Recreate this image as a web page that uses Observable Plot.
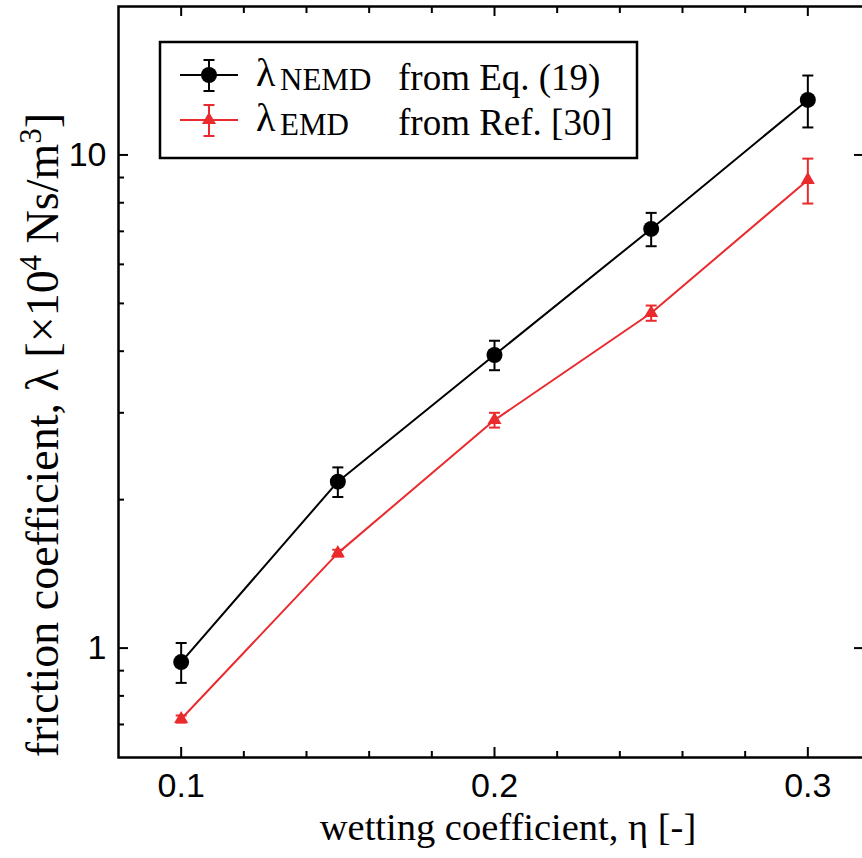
<!DOCTYPE html>
<html><head><meta charset="utf-8">
<script src="https://cdn.jsdelivr.net/npm/d3@7"></script>
<script src="https://cdn.jsdelivr.net/npm/@observablehq/plot@0.6"></script>
<style>html,body{margin:0;padding:0;background:#fff;overflow:hidden}</style>
</head><body><div id="chart"></div>
<script>
// ---- data ----
const eta = [0.10, 0.15, 0.20, 0.25, 0.30];
const nemdValue = [0.937, 2.175, 3.93, 7.08, 12.93];
const nemdError = [0.087, 0.15, 0.27, 0.55, 1.56];
const emdValue = [0.718, 1.558, 2.90, 4.78, 8.9];
const emdError = [0.012, 0.025, 0.10, 0.17, 0.93];
const xMajorTicks = [0.1, 0.2, 0.3];
const xTickLabels = ["0.1", "0.2", "0.3"];
const xMinorTicks = [0.12, 0.14, 0.16, 0.18, 0.22, 0.24, 0.26, 0.28];
const yMajorTicks = [1, 10];
const yTickLabels = ["1", "10"];
const yMinorTicks = [0.7, 0.8, 0.9, 2, 3, 4, 5, 6, 7, 8, 9];
const seriesSub = ["NEMD", "EMD"];
const seriesSource = ["from Eq. (19)", "from Ref. [30]"];
const seriesColor = ["#000000", "#ea2a2d"];
const seriesSymbol = ["circle", "triangle"];
const xLabel = "wetting coefficient, η [-]";

const nemd = eta.map((x, i) => ({x, y: nemdValue[i], e: nemdError[i]}));
const emd = eta.map((x, i) => ({x, y: emdValue[i], e: emdError[i]}));

const W = 862, Hh = 858;
const mL = 118, mT = 6, mB = 101, mR = -8;
const PH = Hh - mT - mB, PW = W - mL - mR;
const red = seriesColor[1];
const SERIF = "'Liberation Serif', 'Times New Roman', Times, serif";
const SANS = "'Liberation Sans', Arial, Helvetica, sans-serif";

const capSymbol = {draw(ctx, size) { const w = Math.sqrt(size / Math.PI); ctx.moveTo(-w, 0); ctx.lineTo(w, 0); }};

function series(data, color, symbol, r) {
  return [
    Plot.line(data, {x: "x", y: "y", stroke: color, strokeWidth: 2}),
    Plot.ruleX(data, {x: "x", y1: d => d.y - d.e, y2: d => d.y + d.e, stroke: color, strokeWidth: 2}),
    Plot.dot(data, {x: "x", y: d => d.y - d.e, symbol: capSymbol, r: 5.5, stroke: color, strokeWidth: 2, fill: "none"}),
    Plot.dot(data, {x: "x", y: d => d.y + d.e, symbol: capSymbol, r: 5.5, stroke: color, strokeWidth: 2, fill: "none"}),
    Plot.dot(data, {x: "x", y: "y", symbol, r, fill: color, stroke: "none"})
  ];
}

const svg = Plot.plot({
  width: W, height: Hh,
  marginLeft: mL, marginTop: mT, marginBottom: mB, marginRight: mR,
  style: {background: "white", overflow: "hidden"},
  x: {domain: [0.08, 0.32], axis: null},
  y: {type: "log", domain: [0.6, 20], axis: null},
  marks: [
    // ticks, inward, on all four sides
    Plot.tickX(xMajorTicks, {x: d => d, insetTop: PH - 10, stroke: "black", strokeWidth: 2}),
    Plot.tickX(xMinorTicks, {x: d => d, insetTop: PH - 6, stroke: "black", strokeWidth: 2}),
    Plot.tickX(xMajorTicks, {x: d => d, insetBottom: PH - 10, stroke: "black", strokeWidth: 2}),
    Plot.tickX(xMinorTicks, {x: d => d, insetBottom: PH - 7, stroke: "black", strokeWidth: 2}),
    Plot.tickY(yMajorTicks, {y: d => d, insetRight: PW - 10, stroke: "black", strokeWidth: 2}),
    Plot.tickY(yMinorTicks, {y: d => d, insetRight: PW - 6, stroke: "black", strokeWidth: 2}),
    Plot.tickY(yMajorTicks, {y: d => d, insetLeft: PW - 16, stroke: "black", strokeWidth: 2}),
    Plot.tickY(yMinorTicks, {y: d => d, insetLeft: PW - 7, stroke: "black", strokeWidth: 2}),
    Plot.text(xMajorTicks, {x: d => d, frameAnchor: "bottom", dy: 39, text: (d, i) => xTickLabels[i], fontSize: 34, fontFamily: SANS, fill: "black"}),
    Plot.text(yMajorTicks, {y: d => d, frameAnchor: "left", dx: -12, textAnchor: "end", text: (d, i) => yTickLabels[i], fontSize: 34, fontFamily: SANS, fill: "black"}),
    ...series(nemd, seriesColor[0], seriesSymbol[0], 8),
    ...series(emd, red, seriesSymbol[1], 5.2),
    Plot.frame({stroke: "black", strokeWidth: 2.5})
  ]
});
document.getElementById("chart").appendChild(svg);

const s = d3.select(svg);
// x axis label
s.append("text").attr("x", 508).attr("y", 840).attr("text-anchor", "middle")
  .style("font-family", SERIF).style("font-size", "38.5px").attr("fill", "black").text(xLabel);
// y axis label
const yl = s.append("text").attr("transform", "translate(58,435) rotate(-90)").attr("text-anchor", "middle")
  .style("font-family", SERIF).style("font-size", "46px").attr("fill", "black");
yl.append("tspan").text("friction coefficient, λ [×10");
yl.append("tspan").attr("dy", -17).style("font-size", "31px").text("4");
yl.append("tspan").attr("dy", 17).text(" Ns/m");
yl.append("tspan").attr("dy", -17).style("font-size", "31px").text("3");
yl.append("tspan").attr("dy", 17).text("]");

// legend
const lg = s.append("g");
lg.append("rect").attr("x", 160).attr("y", 42).attr("width", 477).attr("height", 116)
  .attr("fill", "white").attr("stroke", "black").attr("stroke-width", 2.5);
const rowY = [75, 120];
seriesSub.forEach((sub, i) => {
  const y = rowY[i], c = seriesColor[i];
  lg.append("line").attr("x1", 180).attr("x2", 238).attr("y1", y).attr("y2", y).attr("stroke", c).attr("stroke-width", 2);
  lg.append("line").attr("x1", 209).attr("x2", 209).attr("y1", y - 15).attr("y2", y + 16).attr("stroke", c).attr("stroke-width", 2);
  lg.append("line").attr("x1", 203.5).attr("x2", 214.5).attr("y1", y - 15).attr("y2", y - 15).attr("stroke", c).attr("stroke-width", 2);
  lg.append("line").attr("x1", 203.5).attr("x2", 214.5).attr("y1", y + 16).attr("y2", y + 16).attr("stroke", c).attr("stroke-width", 2);
  const sym = d3.symbol(seriesSymbol[i] === "circle" ? d3.symbolCircle : d3.symbolTriangle, i === 0 ? Math.PI * 64 : Math.PI * 5.2 * 5.2);
  lg.append("path").attr("d", sym()).attr("transform", `translate(209,${y})`).attr("fill", c);
  lg.append("text").attr("x", 256).attr("y", y + 11).attr("text-anchor", "start").style("font-family", SERIF)
    .style("font-size", "40px").attr("fill", "black").text("λ");
  lg.append("text").attr("x", 280).attr("y", y + 15).attr("text-anchor", "start").style("font-family", SERIF)
    .style("font-size", "31px").attr("fill", "black").text(sub);
  lg.append("text").attr("x", 398).attr("y", y + 15).attr("text-anchor", "start").style("font-family", SERIF).style("font-size", "37px").attr("fill", "black").text(seriesSource[i]);
});
</script>
</body></html>
